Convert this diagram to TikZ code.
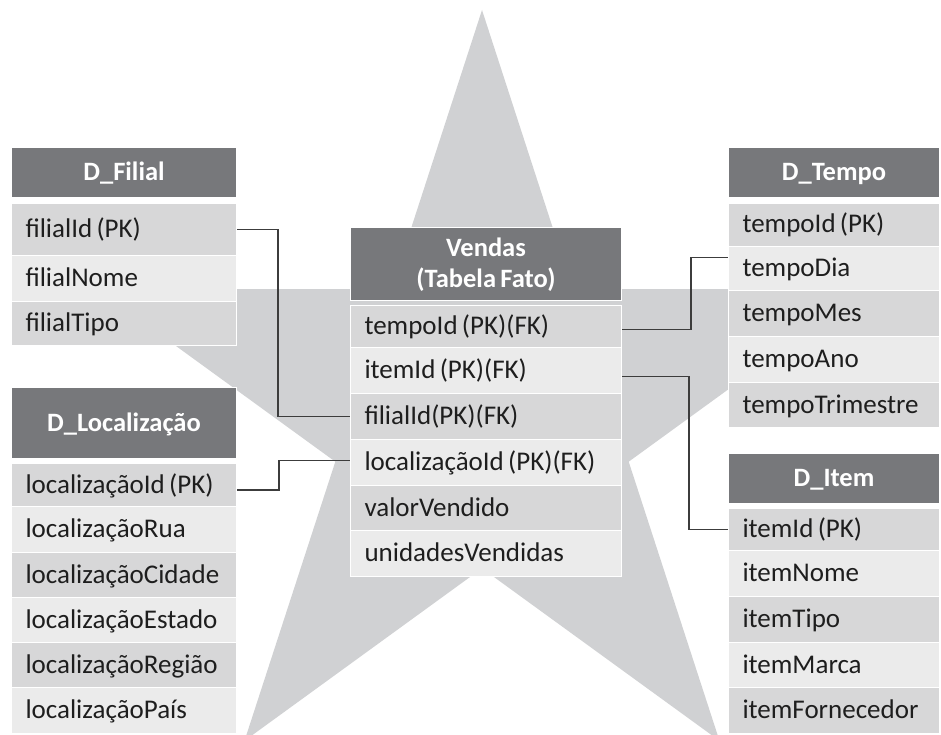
\documentclass[tikz,border=0pt]{standalone}
\usepackage{fontspec}
\setmainfont{Carlito}
\definecolor{hdr}{HTML}{77787B}
\definecolor{starc}{HTML}{D0D1D3}
\definecolor{rowdk}{HTML}{D7D7D8}
\definecolor{rowlt}{HTML}{EBEBEB}
\definecolor{txt}{HTML}{1E1E1E}
\definecolor{lnk}{HTML}{3C3C3C}
\newcommand\rowfont{\fontsize{27}{31}\selectfont}
\newcommand\hdrfont{\fontsize{26.5}{31}\selectfont\bfseries}
\newcommand\tsp{\hspace{0.16em}}
\newcommand\trow[6]{\node[rowsty,#5,minimum height=#4pt] (#1) at (#2,#3) {#6};}
\tikzset{
 rowsty/.style={anchor=north west, inner xsep=14pt, inner ysep=0pt, align=left, font=\rowfont, text=txt, draw=white, line width=1pt, text height=17pt, text depth=1pt},
 hdrsty/.style={anchor=north west, inner xsep=0pt, inner ysep=0pt, align=center, fill=hdr, draw=white, line width=1pt, text=white, font=\hdrfont, text height=18pt, text depth=1.3pt},
 wL/.style={minimum width=225pt, text width=197pt},
 wV/.style={minimum width=271pt, text width=243pt},
 wR/.style={minimum width=211pt, text width=183pt},
 dk/.style={fill=rowdk}, lt/.style={fill=rowlt},
 link/.style={draw=lnk, line width=1.6pt},
}
\begin{document}
\begin{tikzpicture}[x=1pt,y=-1pt]
\useasboundingbox (0,0) rectangle (941,735);
% star
\fill[starc] (482,10) -- (572.7,289.2) -- (866.2,289.2) -- (628.7,461.7) -- (719.5,740.8) -- (482,568.3) -- (244.5,740.8) -- (335.3,461.7) -- (97.8,289.2) -- (391.3,289.2) -- cycle;
% D_Filial
\node[hdrsty, minimum width=225pt, text width=225pt, minimum height=50pt] (fh) at (11,147) {D\_Filial};
\trow{f1}{11}{203}{52}{wL,dk}{filialId\tsp(PK)}
\trow{f2}{11}{255}{46}{wL,lt}{filialNome}
\trow{f3}{11}{301}{44}{wL,dk}{filialTipo}
% D_Localizacao
\node[hdrsty, minimum width=225pt, text width=225pt, minimum height=71pt] (lh) at (11,387) {D\_Localização};
\trow{l1}{11}{463}{43}{wL,dk}{localizaçãoId\tsp(PK)}
\trow{l2}{11}{506}{46}{wL,lt}{localizaçãoRua}
\trow{l3}{11}{552}{45}{wL,dk}{localizaçãoCidade}
\trow{l4}{11}{597}{45}{wL,lt}{localizaçãoEstado}
\trow{l5}{11}{642}{45}{wL,dk}{localizaçãoRegião}
\trow{l6}{11}{687}{46}{wL,lt}{localizaçãoPaís}
% Vendas
\node[hdrsty, minimum width=271pt, text width=271pt, minimum height=73pt, text depth=32.3pt] (vh) at (350,227) {Vendas\\(Tabela\tsp Fato)};
\trow{v1}{350}{305}{42}{wV,dk}{tempoId\tsp(PK)(FK)}
\trow{v2}{350}{347}{46}{wV,lt}{itemId\tsp(PK)(FK)}
\trow{v3}{350}{393}{46}{wV,dk}{filialId(PK)(FK)}
\trow{v4}{350}{439}{46}{wV,lt}{localizaçãoId\tsp(PK)(FK)}
\trow{v5}{350}{485}{45}{wV,dk}{valorVendido}
\trow{v6}{350}{530}{46}{wV,lt}{unidadesVendidas}
% D_Tempo
\node[hdrsty, minimum width=211pt, text width=211pt, minimum height=50pt] (th) at (728,147) {D\_Tempo};
\trow{t1}{728}{203}{43}{wR,dk}{tempoId\tsp(PK)}
\trow{t2}{728}{246}{44}{wR,lt}{tempoDia}
\trow{t3}{728}{290}{46}{wR,dk}{tempoMes}
\trow{t4}{728}{336}{46}{wR,lt}{tempoAno}
\trow{t5}{728}{382}{45}{wR,dk}{tempoTrimestre}
% D_Item
\node[hdrsty, minimum width=211pt, text width=211pt, minimum height=50pt] (ih) at (728,453) {D\_Item};
\trow{i1}{728}{508}{42}{wR,dk}{itemId\tsp(PK)}
\trow{i2}{728}{550}{46}{wR,lt}{itemNome}
\trow{i3}{728}{596}{46}{wR,dk}{itemTipo}
\trow{i4}{728}{642}{45}{wR,lt}{itemMarca}
\trow{i5}{728}{687}{46}{wR,dk}{itemFornecedor}
% connectors
\draw[link] (f1.east) -- ++(41,0) |- (v3.west);
\draw[link] ([yshift=-5pt]l1.east) -- ++(42,0) |- ([yshift=2pt]v4.west);
\draw[link] ([yshift=-3pt]v1.east) -- ++(69,0) |- ([yshift=11pt]t2.west);
\draw[link] ([yshift=-6pt]v2.east) -- ++(67,0) |- (i1.west);
\end{tikzpicture}
\end{document}
